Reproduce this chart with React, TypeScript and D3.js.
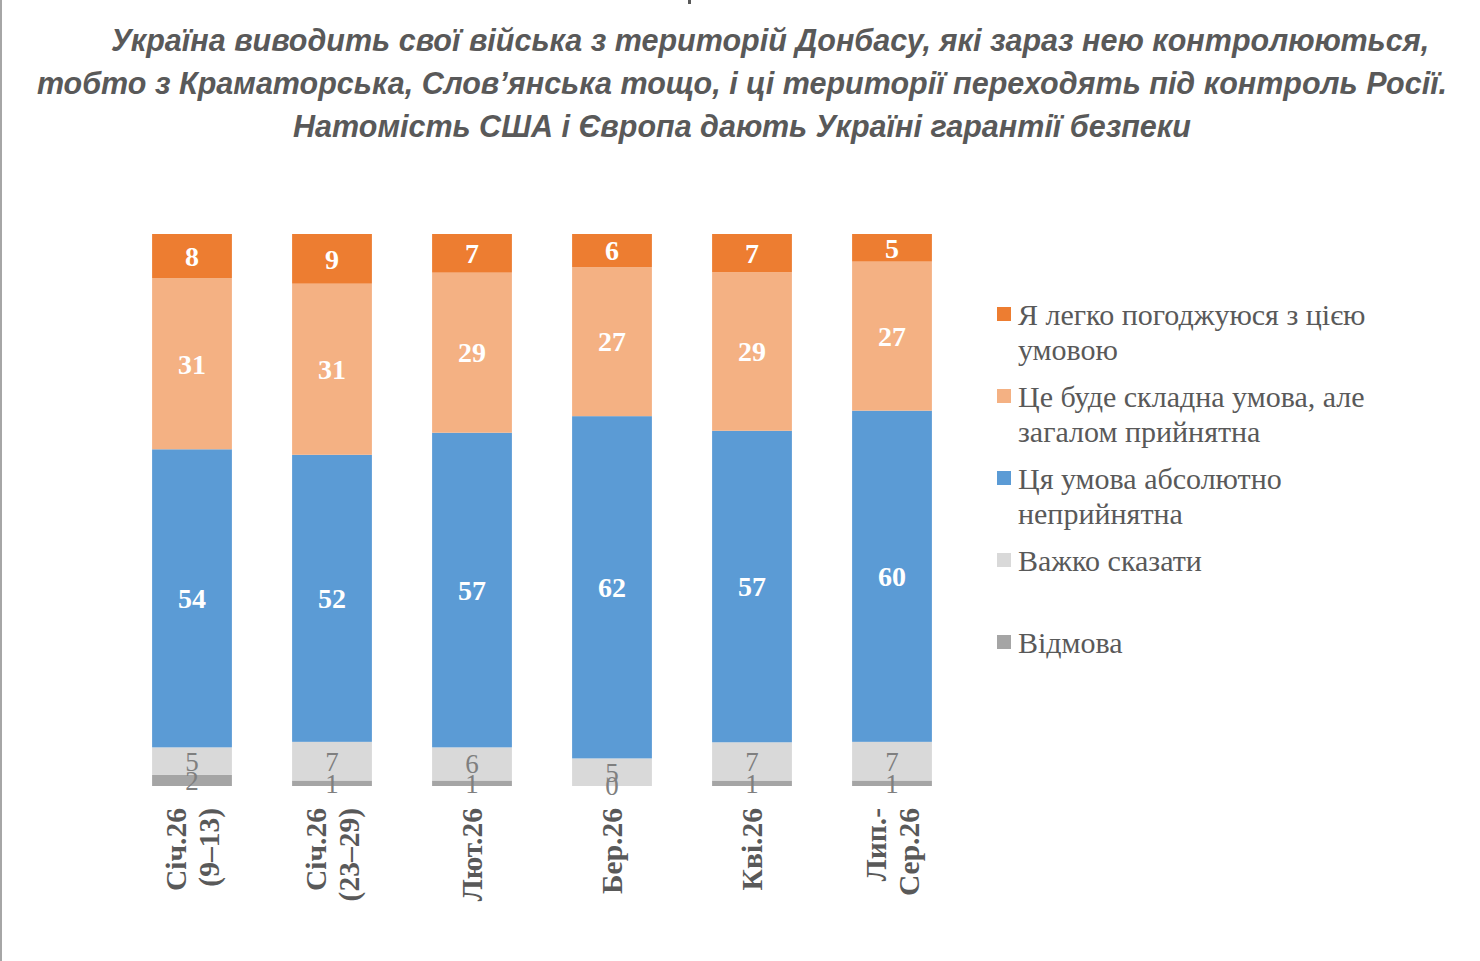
import * as d3 from "d3";
import { useEffect, useRef } from "react";

const categories = ["Січ.26\n(9–13)", "Січ.26\n(23–29)", "Лют.26", "Бер.26", "Кві.26", "Лип.-\nСер.26"];
const series = ["refuse", "hard", "unacceptable", "acceptableHard", "easy"];
const seriesLabels = [
	"Я легко погоджуюся з цією\nумовою",
	"Це буде складна умова, але\nзагалом прийнятна",
	"Ця умова абсолютно\nнеприйнятна",
	"Важко сказати",
	"Відмова",
];
// values per category, bottom to top
const refuse = [2, 1, 1, 0, 1, 1];
const hard = [5, 7, 6, 5, 7, 7];
const unacceptable = [54, 52, 57, 62, 57, 60];
const acceptableHard = [31, 31, 29, 27, 29, 27];
const easy = [8, 9, 7, 6, 7, 5];
const titleLines = [
	"Україна виводить свої війська з територій Донбасу, які зараз нею контролюються,",
	"тобто з Краматорська, Слов’янська тощо, і ці території переходять під контроль Росії.",
	"Натомість США і Європа дають Україні гарантії безпеки",
];

const colors: Record<string, string> = {
	refuse: "#a5a5a5",
	hard: "#d9d9d9",
	unacceptable: "#5b9bd5",
	acceptableHard: "#f4b183",
	easy: "#ed7d31",
};
// legend order (top to bottom)
const legendKeys = ["easy", "acceptableHard", "unacceptable", "hard", "refuse"];

const serif = "'Liberation Serif', 'Times New Roman', serif";

export default function App() {
	const svgRef = useRef<SVGSVGElement>(null);

	useEffect(() => {
		document.body.style.margin = "0";
		const svg = d3.select(svgRef.current);
		if (!svg.node()) return;
		svg.selectAll("*").remove();

		const rows = categories.map((c, i) => ({
			cat: c,
			refuse: refuse[i],
			hard: hard[i],
			unacceptable: unacceptable[i],
			acceptableHard: acceptableHard[i],
			easy: easy[i],
		}));

		const stacked = d3.stack<any>().keys(series).offset(d3.stackOffsetExpand)(rows);

		const x = d3
			.scaleBand()
			.domain(categories)
			.range([122, 962])
			.paddingInner(0.43)
			.paddingOuter(0.215);
		const y = d3.scaleLinear().domain([0, 1]).range([786, 234]);

		// frame line at left + small stray mark at top
		svg.append("rect").attr("x", 0).attr("y", 0).attr("width", 2).attr("height", 961).attr("fill", "#a6a6a6");
		svg.append("rect").attr("x", 688).attr("y", 0).attr("width", 3).attr("height", 4).attr("fill", "#595959");

		// title
		const title = svg
			.append("text")
			.attr("fill", "#595959")
			.style("font-family", "'Liberation Sans', Arial, sans-serif")
			.style("font-weight", "700")
			.style("font-style", "italic")
			.style("font-size", "30.5px")
			.attr("text-anchor", "middle");
		titleLines.forEach((t, i) => {
			title
				.append("tspan")
				.attr("x", i === 0 ? 770 : 742)
				.attr("y", 51 + i * 43)
				.text(t);
		});

		// bars
		const layer = svg
			.selectAll("g.layer")
			.data(stacked)
			.join("g")
			.attr("class", "layer")
			.attr("fill", (d) => colors[d.key]);

		layer
			.selectAll("rect")
			.data((d) => d)
			.join("rect")
			.attr("x", (d) => x(d.data.cat)!)
			.attr("width", x.bandwidth())
			.attr("y", (d) => y(d[1]))
			.attr("height", (d) => y(d[0]) - y(d[1]));

		// value labels
		stacked.forEach((s) => {
			const light = s.key === "hard" || s.key === "refuse";
			svg
				.append("g")
				.selectAll("text")
				.data(s)
				.join("text")
				.attr("x", (d) => x(d.data.cat)! + x.bandwidth() / 2)
				.attr("y", (d) => (y(d[0]) + y(d[1])) / 2)
				.attr("dy", "0.35em")
				.attr("text-anchor", "middle")
				.attr("fill", light ? "#7f7f7f" : "#ffffff")
				.style("font-family", serif)
				.style("font-weight", light ? "400" : "700")
				.style("font-size", light ? "27px" : "28px")
				.text((d) => d.data[s.key]);
		});

		// category labels (rotated)
		categories.forEach((c) => {
			const lines = c.split("\n");
			const cx = x(c)! + x.bandwidth() / 2;
			lines.forEach((ln, i) => {
				const off = (i - (lines.length - 1) / 2) * 33;
				svg
					.append("text")
					.attr("transform", `translate(${cx + off},808) rotate(-90)`)
					.attr("dy", "0.35em")
					.attr("text-anchor", "end")
					.attr("fill", "#595959")
					.style("font-family", serif)
					.style("font-weight", "700")
					.style("font-size", "29.5px")
					.text(ln);
			});
		});

		// legend
		const legend = svg.append("g");
		legendKeys.forEach((k, i) => {
			const label = seriesLabels[i];
			const yy = 314 + i * 82;
			legend
				.append("rect")
				.attr("x", 997)
				.attr("y", yy - 7)
				.attr("width", 14)
				.attr("height", 14)
				.attr("fill", colors[k]);
			const t = legend
				.append("text")
				.attr("fill", "#595959")
				.style("font-family", serif)
				.style("font-size", "30px");
			label.split("\n").forEach((ln, j) => {
				t.append("tspan")
					.attr("x", 1018)
					.attr("y", yy + j * 35)
					.attr("dy", "0.35em")
					.text(ln);
			});
		});
	}, []);

	return (
		<div style={{ position: "absolute", left: 0, top: 0, width: 1480, height: 961 }}>
			<svg ref={svgRef} width={1480} height={961} style={{ display: "block", background: "#fff" }} />
		</div>
	);
}
